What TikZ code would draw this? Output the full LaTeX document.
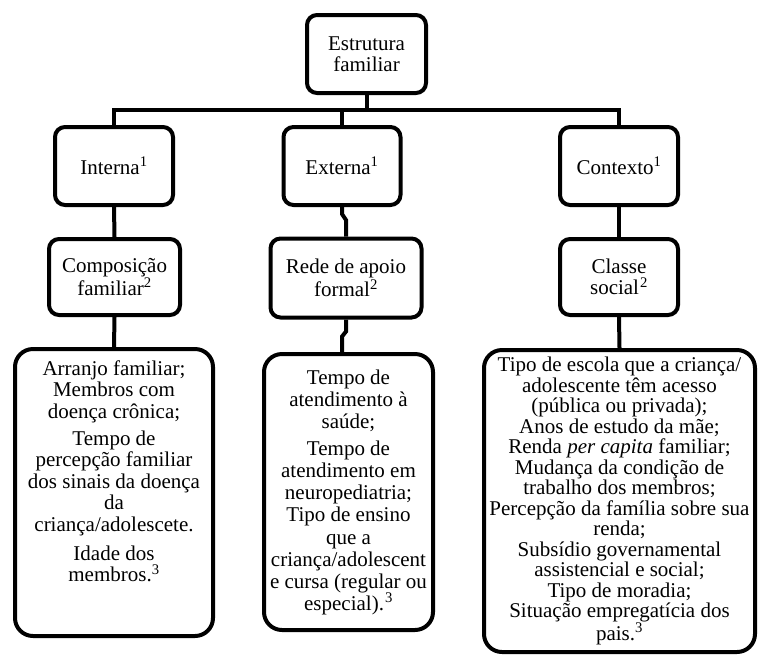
\documentclass[tikz,border=0pt]{standalone}
\usepackage{fontspec}
\setmainfont{Liberation Serif}
\usetikzlibrary{calc}
\tikzstyle{every node}=[font=\fontsize{21}{21.5}\selectfont]
\tikzstyle{every path}=[line width=4pt]
\tikzstyle{box}=[draw,line width=4pt,rounded corners=10pt,align=center,inner sep=0pt]
\tikzstyle{listbox}=[box,rounded corners=18pt]

\begin{document}
\begin{tikzpicture}[x=1pt,y=-1pt]
  \useasboundingbox (0,0) rectangle (760,657);
  % top
  \node[box,minimum width=119pt,minimum height=78pt] (top) at (366.5,54) {Estrutura\\familiar};
  % first level
  \node[box,minimum width=118pt,minimum height=78pt] (int) at (114,166) {Interna\textsuperscript{1}};
  \node[box,minimum width=117pt,minimum height=78pt] (ext) at (342,166) {Externa\textsuperscript{1}};
  \node[box,minimum width=118pt,minimum height=78pt] (ctx) at (619,166) {Contexto\textsuperscript{1}};
  % second level
  \node[box,minimum width=131pt,minimum height=76pt] (comp) at (114.5,277) {Composição\\familiar\textsuperscript{2}};
  \node[box,minimum width=151pt,minimum height=79pt] (rede) at (346,278) {Rede de apoio\\formal\textsuperscript{2}};
  \node[box,minimum width=118pt,minimum height=76pt] (cls) at (619,277) {Classe\\social\kern1pt\textsuperscript{2}};
  % lists
  \node[listbox,minimum width=198pt,minimum height=287pt] (intlist) at (114,492.5)
    {Arranjo familiar;\\Membros com\\doença crônica;\\[5.5pt]
     Tempo de\\percepção familiar\\dos sinais da doença\\da\\criança/adolescete.\\[7.5pt]
     Idade dos\\membros.\textsuperscript{3}\\[21pt]\mbox{}};
  \node[listbox,minimum width=169pt,minimum height=276pt,font=\fontsize{21}{22}\selectfont] (extlist) at (348.5,492)
    {Tempo de\\atendimento à\\saúde;\\[5pt]
     Tempo de\\atendimento em\\neuropediatria;\\Tipo de ensino\\[1pt]
     que a\\criança/adolescent\\e cursa (regular ou\\especial).\kern1pt\textsuperscript{3}};
  \node[listbox,minimum width=271pt,minimum height=302pt,font=\fontsize{21}{20.5}\selectfont] (ctxlist) at (619.5,501)
    {Tipo de escola que a criança/\\adolescente têm acesso\\(pública ou privada);\\Anos de estudo da mãe;\\
     Renda \textit{per capita} familiar;\\Mudança da condição de\\trabalho dos membros;\\
     Percepção da família sobre sua\\renda;\\Subsídio governamental\\assistencial e social;\\
     Tipo de moradia;\\Situação empregatícia dos\\pais.\textsuperscript{3}};
  % tree
  \coordinate (bar) at (366.5,110);
  \draw (top.south) -- (bar);
  \draw (int.north) |- (bar) -| (ctx.north);
  \draw (ext.north) -- (ext.north |- bar);
  \foreach \a/\b in {int/comp, ctx/cls, comp/intlist, cls/ctxlist} {
    \draw (\a.south) -- (\b.north);
  }
  \draw (ext.south) -- ++(0,7) -- ++(4,6) -- (rede.north);
  \draw (rede.south) -- ++(0,12) -- ++(-4,5) -- (extlist.north -| ext.south);
\end{tikzpicture}
\end{document}
